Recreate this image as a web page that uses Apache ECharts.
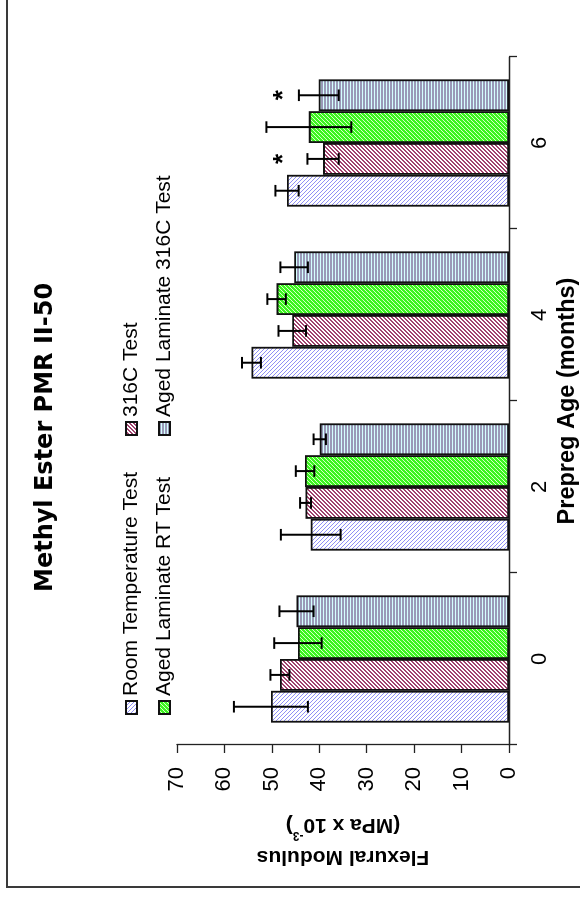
<!DOCTYPE html>
<html>
<head>
<meta charset="utf-8">
<script src="https://cdn.jsdelivr.net/npm/echarts@6/dist/echarts.min.js"></script>
<style>
  html, body { margin: 0; padding: 0; background: #fff; overflow: hidden; }
  body { width: 580px; height: 897px; position: relative; }
  /* the landscape chart is laid out 897 x 580 and turned a quarter turn counter-clockwise */
  #chart {
    position: absolute; left: 0; top: 0;
    width: 897px; height: 580px;
    transform-origin: 0 0;
    transform: translate(0, 897px) rotate(-90deg);
  }
</style>
</head>
<body>
<div id="chart"></div>
<script>
// Prepreg age groups (months)
const categories = ['0', '2', '4', '6'];

// Flexural modulus, MPa x 10^-3, with +/- error
const rtValues      = [50.2, 41.8, 54.3, 46.8];
const rtErr         = [7.8, 6.3, 2.0, 2.45];
const c316Values    = [48.3, 42.9, 45.7, 39.2];
const c316Err       = [2.0, 1.15, 2.9, 3.3];
const agedRtValues  = [44.5, 43.0, 49.0, 42.2];
const agedRtErr     = [5.0, 1.95, 1.95, 8.95];
const aged316Values = [44.8, 39.9, 45.3, 40.1];
const aged316Err    = [3.6, 1.3, 2.9, 4.2];

// significance markers: [category index, bar slot]
const asteriskMarks = [[3, 1], [3, 3]];
const asteriskLevel = 48.6;

const valueTicks = { min: 0, max: 70, interval: 10 };

const seriesNames = ['Room Temperature Test', '316C Test', 'Aged Laminate RT Test', 'Aged Laminate 316C Test'];

const FONT = 'Liberation Sans, Arial, sans-serif';
const CAT_GAP = 0.26;

function tile(size, draw) {
  const c = document.createElement('canvas');
  c.width = size; c.height = size;
  const ctx = c.getContext('2d');
  draw(ctx, size);
  return { image: c, repeat: 'repeat' };
}

// hatch fills
const fillRT = tile(4, (ctx, n) => {
  ctx.fillStyle = '#ffffff'; ctx.fillRect(0, 0, n, n);
  ctx.fillStyle = '#8f8ff5';
  for (let i = 0; i < n; i++) ctx.fillRect(i, i, 1, 1);
});
const fill316 = tile(4, (ctx, n) => {
  ctx.fillStyle = '#ffffff'; ctx.fillRect(0, 0, n, n);
  ctx.fillStyle = '#a0426e';
  for (let i = 0; i < n; i++) { ctx.fillRect(i, n - 1 - i, 1, 1); ctx.fillRect(i, (2 * n - 2 - i) % n, 1, 1); }
});
const fillAgedRT = tile(4, (ctx, n) => {
  ctx.fillStyle = '#3cf520'; ctx.fillRect(0, 0, n, n);
  ctx.fillStyle = '#d8ffc8';
  for (let i = 0; i < n; i++) ctx.fillRect(i, n - 1 - i, 1, 1);
});
const fillAged316 = tile(3, (ctx, n) => {
  ctx.fillStyle = '#9a9ab8'; ctx.fillRect(0, 0, n, n);
  ctx.fillStyle = '#d4ffff'; ctx.fillRect(0, 2, n, 1);
});
const fills = [fillRT, fill316, fillAgedRT, fillAged316];
const valueSets = [rtValues, c316Values, agedRtValues, aged316Values];
const errSets = [rtErr, c316Err, agedRtErr, aged316Err];

function slotX(api, ci, slot) {
  const band = api.size([1, 0])[0];
  const bw = band * (1 - CAT_GAP) / 4;
  return api.coord([ci, 0])[0] + (slot - 1.5) * bw;
}

function errorSeries(values, errs, slot) {
  return {
    type: 'custom',
    z: 5,
    silent: true,
    data: values.map((v, i) => [i, v, errs[i]]),
    encode: { x: 0, y: 1 },
    renderItem: function (params, api) {
      const ci = api.value(0), v = api.value(1), e = api.value(2);
      const x = slotX(api, ci, slot);
      const y1 = api.coord([ci, v + e])[1];
      const y2 = api.coord([ci, v - e])[1];
      const cap = 5.8;
      const st = { stroke: '#000', lineWidth: 2 };
      return {
        type: 'group',
        children: [
          { type: 'line', shape: { x1: x, y1: y1, x2: x, y2: y2 }, style: st },
          { type: 'line', shape: { x1: x - cap, y1: y1, x2: x + cap, y2: y1 }, style: st },
          { type: 'line', shape: { x1: x - cap, y1: y2, x2: x + cap, y2: y2 }, style: st }
        ]
      };
    }
  };
}

const barSeries = seriesNames.map((name, k) => ({
  name: name,
  type: 'bar',
  data: valueSets[k],
  barGap: '0%',
  barCategoryGap: (CAT_GAP * 100) + '%',
  itemStyle: { color: fills[k], borderColor: '#111', borderWidth: 1.8 }
}));

const errSeries = valueSets.map((vals, k) => errorSeries(vals, errSets[k], k));

const ASTERISK_SIZE = 26;
const asteriskSeries = {
  type: 'custom',
  z: 6,
  silent: true,
  data: asteriskMarks.map(m => [m[0], asteriskLevel, m[1]]),
  encode: { x: 0, y: 1 },
  renderItem: function (params, api) {
    const ci = api.value(0), slot = api.value(2);
    const x = slotX(api, ci, slot);
    // the star glyph sits high in its em box, so drop the anchor a little
    const y = api.coord([ci, api.value(1)])[1] + ASTERISK_SIZE * 0.22;
    return {
      type: 'text',
      style: { text: '*', x: x, y: y, align: 'center', verticalAlign: 'middle',
               font: 'bold ' + ASTERISK_SIZE + 'px ' + FONT, fill: '#000' }
    };
  }
};

const chart = echarts.init(document.getElementById('chart'), null, { renderer: 'canvas' });

const legendText = { fontSize: 21, fontFamily: FONT, color: '#000' };
const legendBase = {
  orient: 'vertical', top: 116, icon: 'rect',
  itemWidth: 13, itemHeight: 11, itemGap: 12,
  textStyle: legendText
};

chart.setOption({
  animation: false,
  backgroundColor: '#fff',
  title: {
    text: 'Methyl Ester PMR II-50',
    left: 300,
    top: 29,
    textStyle: { fontFamily: 'DejaVu Sans, sans-serif', fontWeight: 'bold', fontSize: 24, color: '#000' }
  },
  legend: [
    Object.assign({ data: [seriesNames[0], seriesNames[2]], left: 177 }, legendBase),
    Object.assign({ data: [seriesNames[1], seriesNames[3]], left: 456 }, legendBase)
  ],
  graphic: [
    {
      type: 'polyline',
      shape: { points: [[10, 600], [10, 7], [910, 7]] },
      style: { stroke: '#3a3a3a', lineWidth: 2, fill: null },
      silent: true
    }
  ],
  grid: { left: 152, right: 57, top: 177, height: 332, containLabel: false, outerBoundsMode: 'none' },
  xAxis: {
    type: 'category',
    data: categories,
    name: 'Prepreg Age (months)',
    nameLocation: 'middle',
    nameGap: 39,
    nameTextStyle: { fontFamily: FONT, fontWeight: 'bold', fontSize: 23.5, color: '#000', verticalAlign: 'top' },
    axisLine: { lineStyle: { color: '#222', width: 1.3 } },
    axisTick: { show: true, inside: false, length: 8, alignWithLabel: false, lineStyle: { color: '#222', width: 1.3 } },
    axisLabel: { fontFamily: FONT, fontSize: 22, color: '#000', margin: 20 },
    splitLine: { show: false }
  },
  yAxis: {
    type: 'value',
    min: valueTicks.min, max: valueTicks.max, interval: valueTicks.interval,
    name: 'Flexural Modulus\n(MPa x 10{sup|-3})',
    nameLocation: 'middle',
    nameRotate: 90,
    nameGap: 64,
    nameTextStyle: {
      fontFamily: FONT, fontWeight: 'bold', fontSize: 21, color: '#000', lineHeight: 32,
      rich: { sup: { fontFamily: FONT, fontWeight: 'bold', fontSize: 12, verticalAlign: 'top', lineHeight: 32, padding: [0, 0, 8, 0] } }
    },
    axisLine: { show: true, lineStyle: { color: '#222', width: 1.3 } },
    axisTick: { show: true, inside: false, length: 8, lineStyle: { color: '#222', width: 1.3 } },
    axisLabel: { fontFamily: FONT, fontSize: 22, color: '#000', margin: 22 },
    splitLine: { show: false }
  },
  series: [].concat(barSeries, errSeries, [asteriskSeries])
});
</script>
</body>
</html>
